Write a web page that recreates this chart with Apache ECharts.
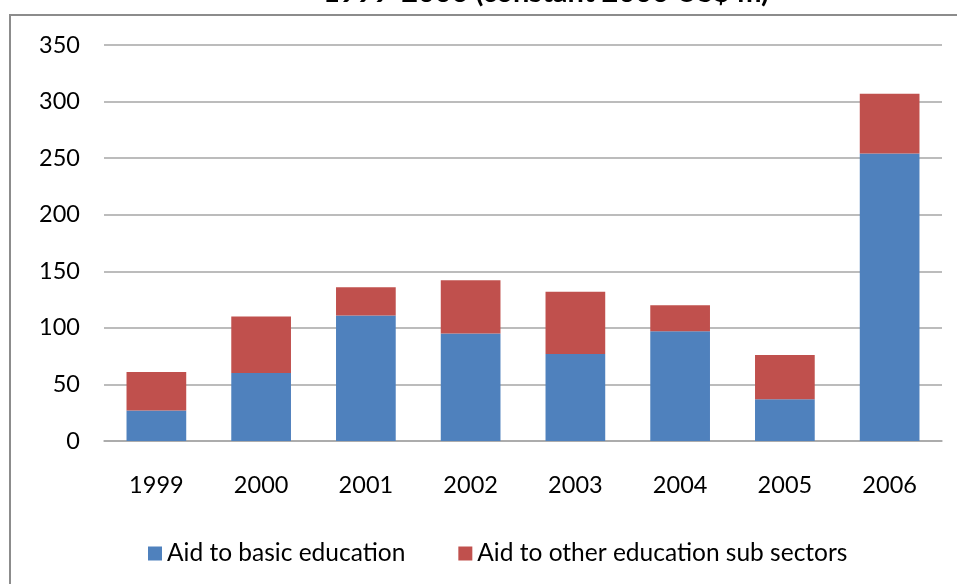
<!DOCTYPE html>
<html>
<head>
<meta charset="utf-8">
<script src="https://cdn.jsdelivr.net/npm/echarts@6/dist/echarts.min.js"></script>
<style>
  html, body { margin: 0; padding: 0; background: #fff; }
  #chart { width: 957px; height: 584px; }
</style>
</head>
<body>
<div id="chart"></div>
<script>
// Aid to education, 1999-2006 (constant 2006 US$ m)
const years = ['1999', '2000', '2001', '2002', '2003', '2004', '2005', '2006'];
const basicEducation = [27, 60, 111, 95, 77, 97, 37, 254];
const otherSubSectors = [34, 50, 25, 47, 55, 23, 39, 53];
const seriesNames = ['Aid to basic education', 'Aid to other education sub sectors'];

const FONT = 'Lato, "Open Sans", sans-serif';

const chart = echarts.init(document.getElementById('chart'));

const option = {
    animation: false,
    backgroundColor: '#fff',
    color: ['#4F81BD', '#C0504D'],
    graphic: [
        {
            type: 'rect',
            shape: { x: 10, y: 15, width: 980, height: 620 },
            style: { fill: 'none', stroke: '#8c8c8c', lineWidth: 2 },
            z: -1
        },
        {
            // title is cut off at the top of the picture
            type: 'text',
            x: 546,
            y: 7,
            style: {
                text: '1999-2006 (constant 2006 US$ m)',
                font: 'bold 29px ' + FONT,
                fill: '#000',
                align: 'center',
                verticalAlign: 'bottom'
            }
        }
    ],
    grid: { left: 104, right: 15, top: 45, bottom: 143 },
    legend: {
        top: 536,
        left: 143,
        itemWidth: 14,
        itemHeight: 14,
        itemGap: 53,
        icon: 'rect',
        textStyle: { fontFamily: FONT, fontSize: 24.5, color: '#000' },
        data: seriesNames
    },
    xAxis: {
        type: 'category',
        data: years,
        axisTick: { show: false },
        axisLine: { lineStyle: { color: '#a6a6a6', width: 1.5 } },
        axisLabel: { fontFamily: FONT, fontSize: 23.5, color: '#000', margin: 32 }
    },
    yAxis: {
        type: 'value',
        min: 0,
        max: 350,
        interval: 50,
        axisLine: { show: false },
        axisTick: { show: false },
        splitLine: { lineStyle: { color: '#a6a6a6', width: 1.5 } },
        axisLabel: { fontFamily: FONT, fontSize: 23.5, color: '#000', margin: 24 }
    },
    series: [
        {
            name: seriesNames[0],
            type: 'bar',
            stack: 'aid',
            barWidth: '57%',
            data: basicEducation
        },
        {
            name: seriesNames[1],
            type: 'bar',
            stack: 'aid',
            data: otherSubSectors
        }
    ]
};

chart.setOption(option);
</script>
</body>
</html>
